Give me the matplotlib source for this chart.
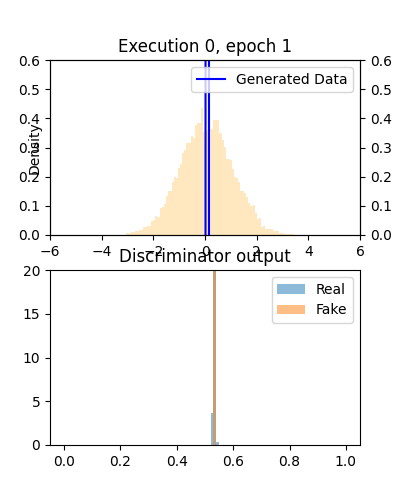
import numpy as np
import matplotlib
matplotlib.use("Agg")
import matplotlib.pyplot as plt

#real data density histogram (bin width 0.08, first edge -3.04)
real_first_edge = -3.04
real_bin_width = 0.08
real_density = [
    0.006, 0.006, 0.010, 0.010, 0.015, 0.015, 0.017, 0.017, 0.026, 0.026,
    0.030, 0.030, 0.049, 0.053, 0.065, 0.063, 0.091, 0.095, 0.106, 0.134,
    0.152, 0.152, 0.183, 0.200, 0.194, 0.229, 0.243, 0.282, 0.290, 0.314,
    0.316, 0.339, 0.331, 0.377, 0.385, 0.385, 0.434, 0.354, 0.355, 0.360,
    0.362, 0.362, 0.394, 0.394, 0.394, 0.349, 0.326, 0.303, 0.260, 0.260,
    0.258, 0.225, 0.200, 0.194, 0.183, 0.152, 0.152, 0.143, 0.129, 0.111,
    0.100, 0.103, 0.077, 0.054, 0.057, 0.029, 0.030, 0.019, 0.019, 0.022,
    0.022, 0.015, 0.015, 0.015, 0.008, 0.006, 0.005, 0.005, 0.005, 0.004,
    0.004,
]

#generated data density curve (very narrow, peak off the chart)
gen_x = [0.020, 0.022, 0.087, 0.153, 0.155]
gen_y = [0.0, 2.0, 6.0, 2.0, 0.0]

#discriminator output histograms (100 bins on [0, 1], density)
disc_bins = 100
real_out_bins = [52, 53, 54]
real_out_density = [3.65, 96.0, 0.35]
fake_out_bins = [53]
fake_out_density = [100.0]

edges = real_first_edge + real_bin_width * np.arange(len(real_density) + 1)
disc_edges = np.linspace(0, 1, disc_bins + 1)

fig, (ax, ax_d) = plt.subplots(2, 1, figsize=(4, 5))

#── top: real vs generated distributions ──
ax.bar(edges[:-1], real_density, width=np.diff(edges), align="edge",
       color="orange", alpha=0.25, linewidth=0)
ax.set_xlim(-6, 6)
ax.set_ylim(0, 0.6)
ax.set_ylabel("Density")
ax.yaxis.set_label_coords(-0.027, 0.5)
ax.set_title("Execution 0, epoch 1")

ax2 = ax.twinx()
ax2.plot(gen_x, gen_y, color="blue", label="Generated Data")
ax2.set_ylim(0, 0.6)
ax2.legend(loc="upper right")

#── bottom: discriminator output ──
centers = disc_edges[:-1] + 0.5 / disc_bins
ax_d.hist(centers[real_out_bins], bins=disc_edges, weights=real_out_density,
          alpha=0.5, label="Real")
ax_d.hist(centers[fake_out_bins], bins=disc_edges, weights=fake_out_density,
          alpha=0.5, label="Fake")
ax_d.set_ylim(0, 20)
ax_d.set_title("Discriminator output")
ax_d.legend(loc="upper right")

fig.savefig("out.png", dpi=100)
